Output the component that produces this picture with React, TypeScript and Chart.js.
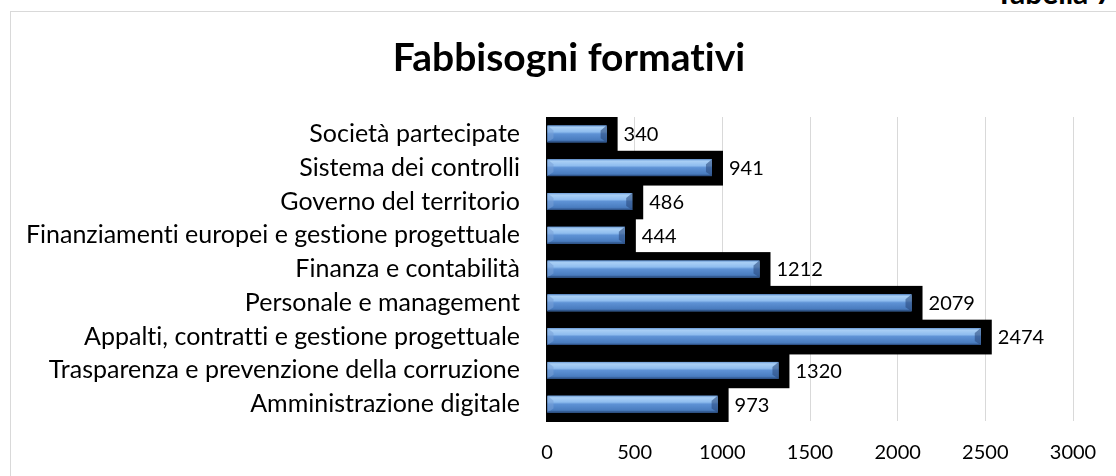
import React, { useEffect, useRef } from "react";
import { Chart, registerables } from "chart.js";

Chart.register(...registerables);

const categories: string[] = [
  "Società partecipate",
  "Sistema dei controlli",
  "Governo del territorio",
  "Finanziamenti europei e gestione progettuale",
  "Finanza e contabilità",
  "Personale e management",
  "Appalti, contratti e gestione progettuale",
  "Trasparenza e prevenzione della corruzione",
  "Amministrazione digitale",
];
const values: number[] = [340, 941, 486, 444, 1212, 2079, 2474, 1320, 973];
const xMin = 0;
const xMax = 3000;
const xStep = 500;
const chartTitle = "Fabbisogni formativi";
const tableLabel = "Tabella 7";

const FONT = "Lato, 'Open Sans', sans-serif";

const barDecorations = {
  id: "barDecorations",
  beforeDraw(chart: any) {
    const ctx = chart.ctx as any;
    try {
      ctx.textRendering = "optimizeSpeed";
      ctx.letterSpacing = "0.01px";
    } catch (e) {
      /* ignore */
    }
  },
  beforeDatasetsDraw(chart: any) {
    const ctx = chart.ctx;
    const meta = chart.getDatasetMeta(0);
    const ys = chart.scales.y;
    const xs = chart.scales.x;
    const band = ys.getPixelForValue(1) - ys.getPixelForValue(0);
    ctx.save();
    ctx.fillStyle = "#000000";
    meta.data.forEach((bar: any) => {
      const x0 = xs.getPixelForValue(0) - 1;
      const x1 = bar.x + 11;
      const top = bar.y - band / 2;
      ctx.fillRect(x0, top, x1 - x0, band + 1);
    });
    ctx.restore();
  },
  afterDatasetsDraw(chart: any) {
    const ctx = chart.ctx;
    const meta = chart.getDatasetMeta(0);
    ctx.save();
    meta.data.forEach((bar: any, i: number) => {
      const x0 = bar.base;
      const x1 = bar.x;
      const h = bar.height;
      const top = bar.y - h / 2;
      const bottom = bar.y + h / 2;
      if (![x0, x1, h, top].every((v) => Number.isFinite(v))) return;
      const g = ctx.createLinearGradient(0, top, 0, bottom);
      g.addColorStop(0, "#6d9cd6");
      g.addColorStop(0.12, "#a9cff5");
      g.addColorStop(0.38, "#8fbdef");
      g.addColorStop(0.5, "#5e92d5");
      g.addColorStop(0.85, "#4a7dc0");
      g.addColorStop(1, "#33598f");
      ctx.fillStyle = g;
      ctx.fillRect(x0, top, x1 - x0, h);
      // right bevel
      ctx.fillStyle = "rgba(38,70,120,0.55)";
      ctx.beginPath();
      ctx.moveTo(x1 - 6, top + 5);
      ctx.lineTo(x1, top);
      ctx.lineTo(x1, bottom);
      ctx.lineTo(x1 - 6, bottom - 4);
      ctx.closePath();
      ctx.fill();
      // left bevel
      ctx.fillStyle = "rgba(120,160,215,0.55)";
      ctx.beginPath();
      ctx.moveTo(x0, top);
      ctx.lineTo(x0 + 6, top + 5);
      ctx.lineTo(x0 + 6, bottom - 4);
      ctx.lineTo(x0, bottom);
      ctx.closePath();
      ctx.fill();
      // bottom edge
      ctx.strokeStyle = "#2e5288";
      ctx.lineWidth = 1;
      ctx.beginPath();
      ctx.moveTo(x0, bottom - 0.5);
      ctx.lineTo(x1, bottom - 0.5);
      ctx.stroke();
      // value label
      ctx.fillStyle = "#000000";
      ctx.font = `20px ${FONT}`;
      ctx.textAlign = "left";
      ctx.textBaseline = "middle";
      ctx.fillText(String(values[i]), bar.x + 17, bar.y + 1);
    });
    ctx.restore();
  },
  afterDraw(chart: any) {
    const ctx = chart.ctx;
    ctx.save();
    ctx.fillStyle = "#000000";
    ctx.font = `bold 39px ${FONT}`;
    ctx.textAlign = "center";
    ctx.textBaseline = "middle";
    ctx.fillText(chartTitle, 558, 46);
    ctx.restore();
  },
};

export default function App() {
  const canvasRef = useRef<HTMLCanvasElement | null>(null);

  useEffect(() => {
    if (!canvasRef.current) return;
    const chart = new Chart(canvasRef.current, {
      type: "bar",
      data: {
        labels: categories,
        datasets: [
          {
            data: values,
            categoryPercentage: 1,
            barPercentage: 0.5,
            borderWidth: 0,
            backgroundColor: "#5e92d5",
          },
        ],
      },
      options: {
        indexAxis: "y",
        responsive: false,
        animation: false,
        devicePixelRatio: 1,
        layout: { padding: { top: 105, right: 55, bottom: 0, left: 0 } },
        plugins: {
          legend: { display: false },
          title: { display: false },
          tooltip: { enabled: false },
        },
        scales: {
          x: {
            type: "linear",
            min: xMin,
            max: xMax,
            ticks: {
              stepSize: xStep,
              padding: 20,
              color: "#000000",
              font: { family: FONT, size: 20 },
              callback: (v: any) => String(v),
            },
            grid: { color: "#d9d9d9", drawTicks: false, lineWidth: 1 },
            border: { display: false },
            afterFit: (s: any) => {
              s.height = 61;
            },
          },
          y: {
            type: "category",
            ticks: {
              padding: 27,
              color: "#000000",
              font: { family: FONT, size: 25 },
              autoSkip: false,
            },
            grid: { display: false, drawTicks: false },
            border: { display: false },
            afterFit: (s: any) => {
              s.width = 536;
            },
          },
        },
      },
      plugins: [barDecorations],
    } as any);
    return () => chart.destroy();
  }, []);

  return (
    <div
      style={{
        position: "fixed",
        left: 0,
        top: 0,
        width: 1116,
        height: 476,
        overflow: "hidden",
        background: "#ffffff",
      }}
    >
      <div
        style={{
          position: "absolute",
          right: 3,
          top: -23,
          fontFamily: FONT,
          fontWeight: "bold",
          fontSize: 30,
          lineHeight: "30px",
          color: "#000000",
          whiteSpace: "nowrap",
          fontVariantLigatures: "none",
        }}
      >
        {tableLabel}
      </div>
      <div
        style={{
          position: "absolute",
          left: 10,
          top: 11,
          width: 1117,
          height: 470,
          border: "1px solid #d9d9d9",
          background: "#ffffff",
        }}
      >
        <canvas
          ref={canvasRef}
          width={1117}
          height={470}
          style={{ display: "block", width: 1117, height: 470 }}
        />
      </div>
    </div>
  );
}
